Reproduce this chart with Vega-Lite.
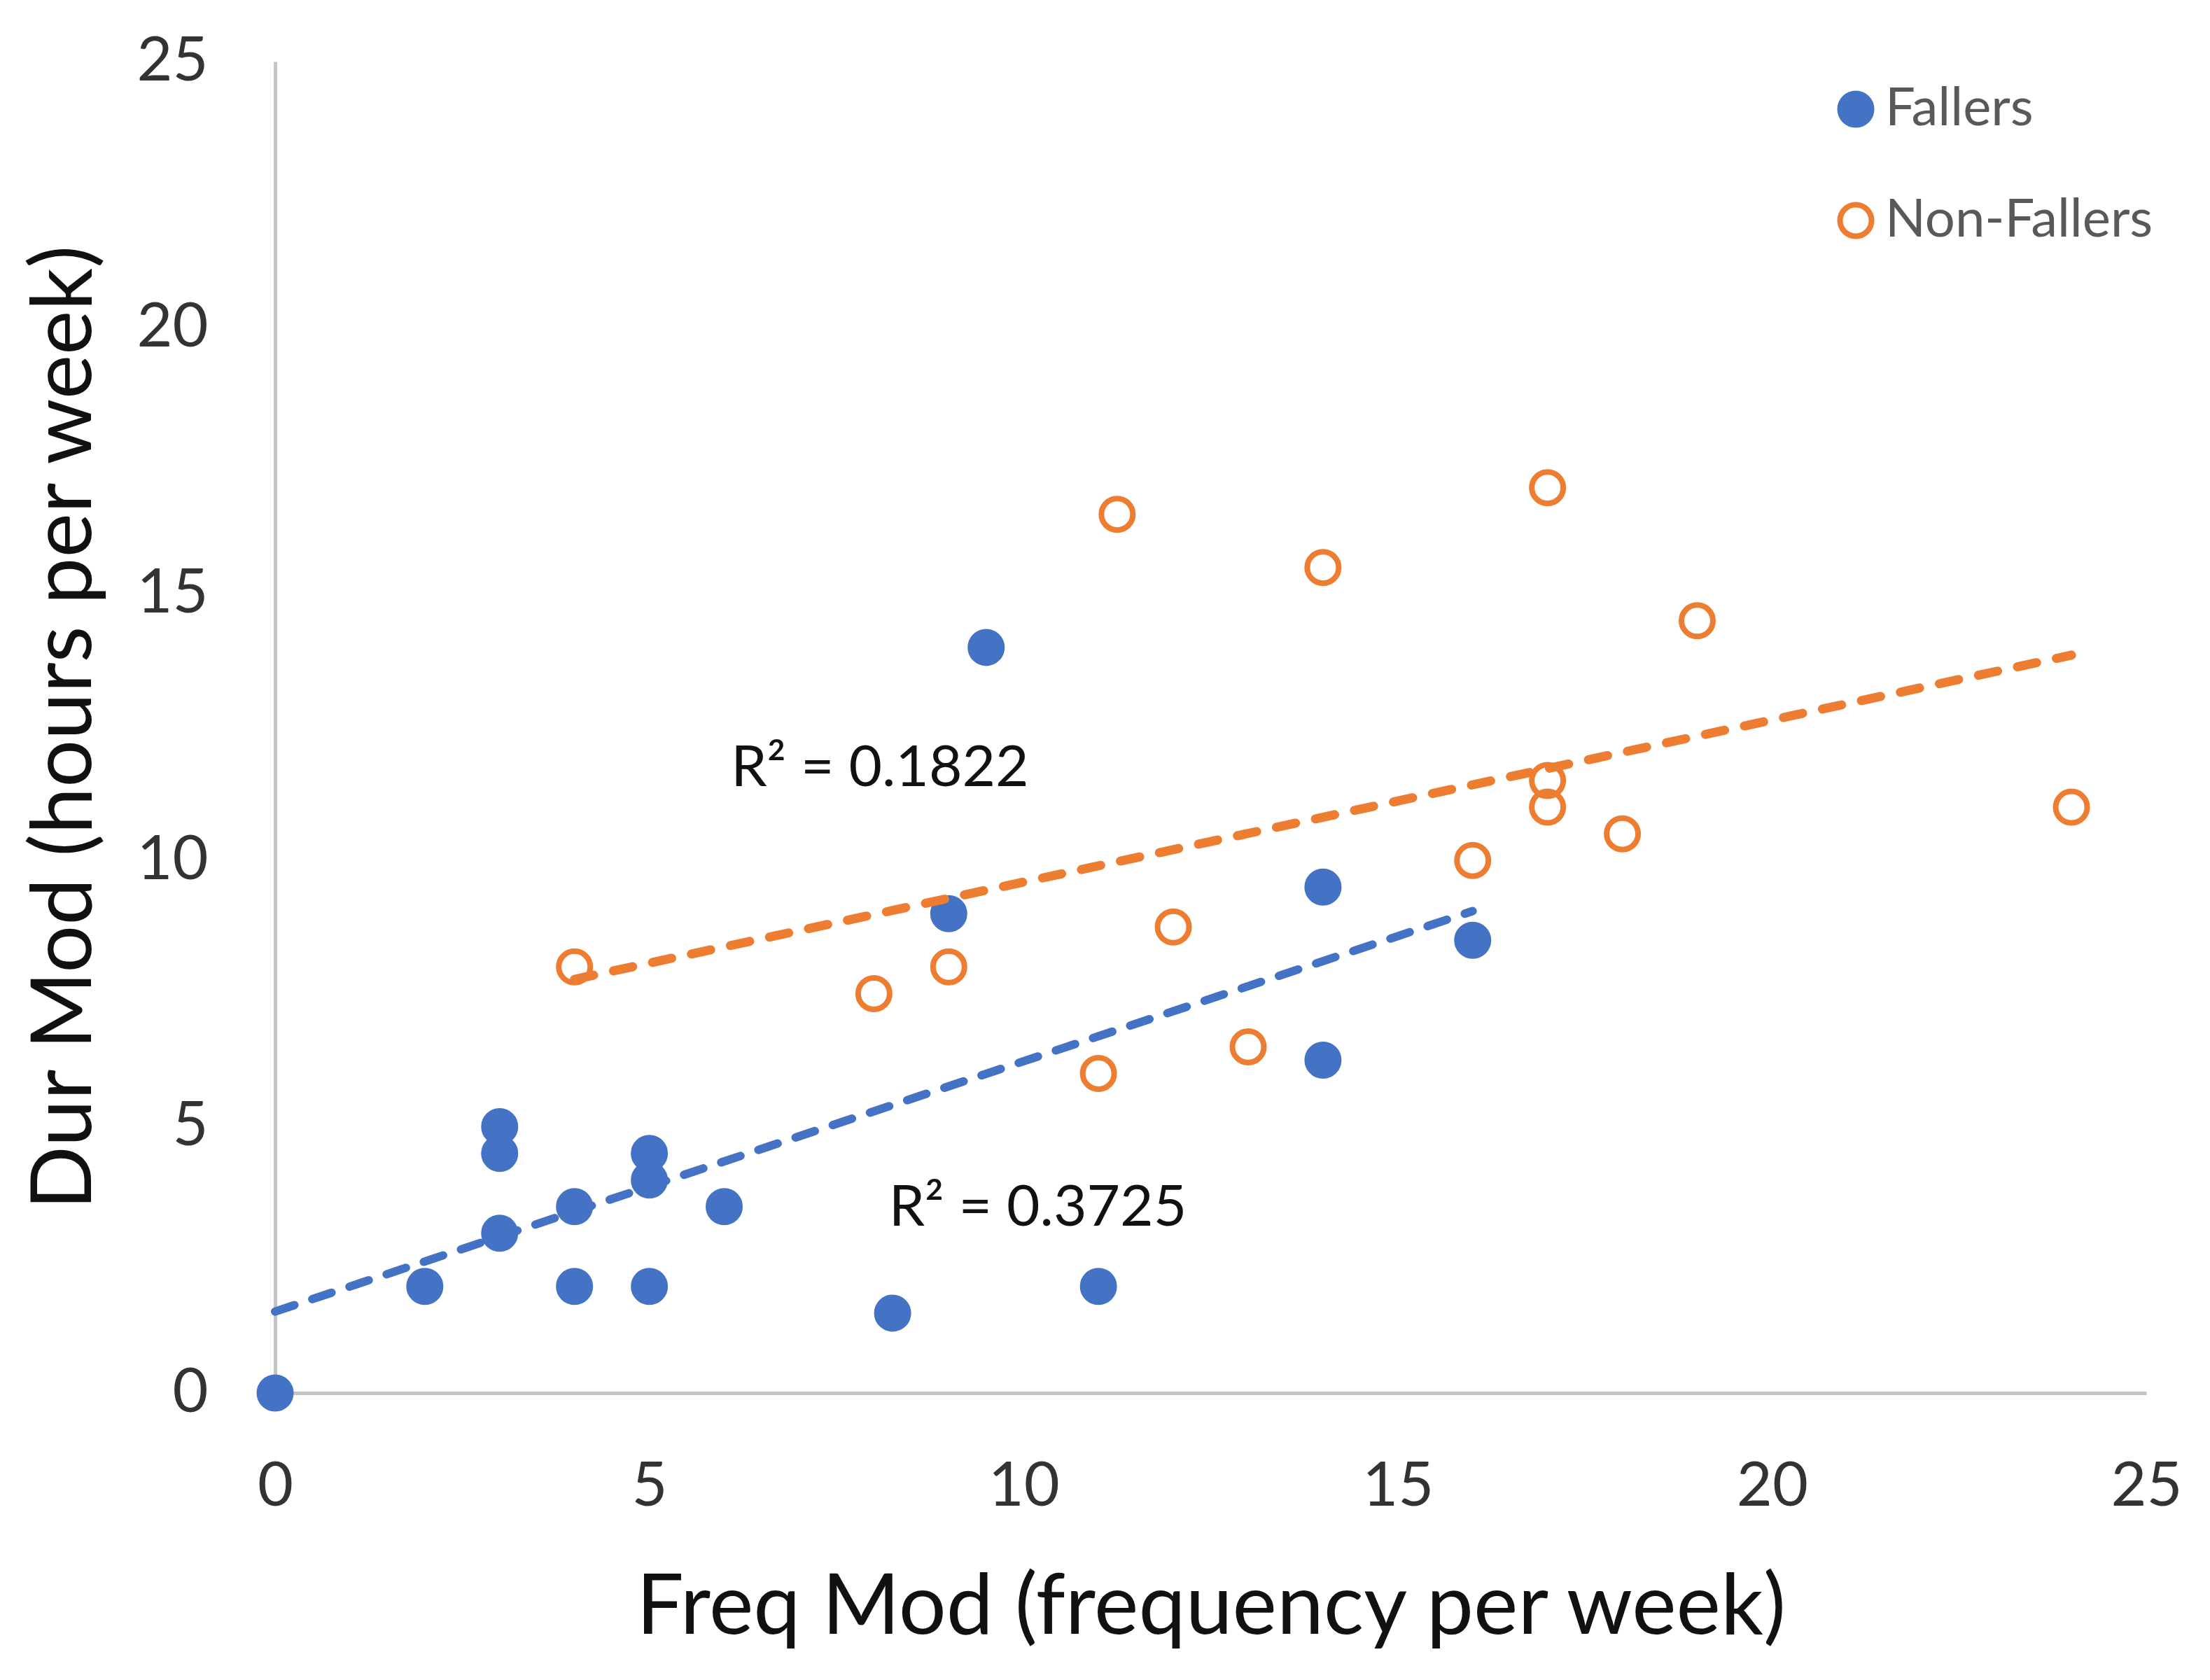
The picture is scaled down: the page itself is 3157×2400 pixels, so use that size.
{
  "$schema": "https://vega.github.io/schema/vega-lite/v6.json",
  "width": 2673,
  "height": 1902,
  "autosize": {"type": "none"},
  "padding": {"left": 393, "top": 88, "right": 91, "bottom": 410},
  "background": "white",
  "config": {
    "view": {"stroke": null},
    "font": "Lato",
    "axis": {
      "domainColor": "#C4C4C4",
      "domainWidth": 5,
      "ticks": false,
      "grid": false,
      "labelFlush": false,
      "labelFont": "Lato",
      "labelFontSize": 88,
      "labelColor": "#333333",
      "titleFont": "Lato",
      "titleFontSize": 120,
      "titleFontWeight": "normal",
      "titleColor": "#111111",
      "format": "d"
    }
  },
  "datasets": {
    "points": [
      {"group": "Fallers", "freq": 0, "dur": 0},
      {"group": "Fallers", "freq": 2, "dur": 2},
      {"group": "Fallers", "freq": 3, "dur": 5},
      {"group": "Fallers", "freq": 3, "dur": 4.5},
      {"group": "Fallers", "freq": 3, "dur": 3},
      {"group": "Fallers", "freq": 4, "dur": 3.5},
      {"group": "Fallers", "freq": 4, "dur": 2},
      {"group": "Fallers", "freq": 5, "dur": 4.5},
      {"group": "Fallers", "freq": 5, "dur": 4},
      {"group": "Fallers", "freq": 5, "dur": 2},
      {"group": "Fallers", "freq": 6, "dur": 3.5},
      {"group": "Fallers", "freq": 8.25, "dur": 1.5},
      {"group": "Fallers", "freq": 9, "dur": 9},
      {"group": "Fallers", "freq": 9.5, "dur": 14},
      {"group": "Fallers", "freq": 11, "dur": 2},
      {"group": "Fallers", "freq": 14, "dur": 9.5},
      {"group": "Fallers", "freq": 14, "dur": 6.25},
      {"group": "Fallers", "freq": 16, "dur": 8.5},
      {"group": "Non-Fallers", "freq": 4, "dur": 8},
      {"group": "Non-Fallers", "freq": 8, "dur": 7.5},
      {"group": "Non-Fallers", "freq": 9, "dur": 8},
      {"group": "Non-Fallers", "freq": 11, "dur": 6},
      {"group": "Non-Fallers", "freq": 11.25, "dur": 16.5},
      {"group": "Non-Fallers", "freq": 12, "dur": 8.75},
      {"group": "Non-Fallers", "freq": 13, "dur": 6.5},
      {"group": "Non-Fallers", "freq": 14, "dur": 15.5},
      {"group": "Non-Fallers", "freq": 16, "dur": 10},
      {"group": "Non-Fallers", "freq": 17, "dur": 17},
      {"group": "Non-Fallers", "freq": 17, "dur": 11.5},
      {"group": "Non-Fallers", "freq": 17, "dur": 11},
      {"group": "Non-Fallers", "freq": 18, "dur": 10.5},
      {"group": "Non-Fallers", "freq": 19, "dur": 14.5},
      {"group": "Non-Fallers", "freq": 24, "dur": 11}
    ],
    "labels": [
      {"x": 6.09, "y": 11.73, "label": "R² = 0.1822"},
      {"x": 8.2, "y": 3.47, "label": "R² = 0.3725"}
    ]
  },
  "layer": [
    {
      "data": {"name": "points"},
      "mark": {"type": "point", "shape": "circle", "size": 2025, "strokeWidth": 8, "opacity": 1},
      "encoding": {
        "x": {"field": "freq", "type": "quantitative", "title": "Freq Mod (frequency per week)",
              "scale": {"domain": [0, 25], "nice": false},
              "axis": {"values": [0, 5, 10, 15, 20, 25], "labelPadding": 90, "titlePadding": 70}},
        "y": {"field": "dur", "type": "quantitative", "title": "Dur Mod (hours per week)",
              "scale": {"domain": [0, 25], "nice": false},
              "axis": {"values": [0, 5, 10, 15, 20, 25], "labelPadding": 96, "titlePadding": 40}},
        "stroke": {"field": "group", "type": "nominal",
                   "scale": {"domain": ["Fallers", "Non-Fallers"], "range": ["#4472C4", "#ED7D31"]},
                   "legend": {"orient": "none", "legendX": 2220, "legendY": 30, "title": null, "padding": 0,
                              "labelFont": "Lato", "labelFontSize": 76, "labelColor": "#595959", "labelLimit": 1000,
                              "symbolSize": 2025, "symbolStrokeWidth": 8, "symbolType": "circle",
                              "rowPadding": 81, "labelOffset": 4}},
        "fill": {"field": "group", "type": "nominal",
                 "scale": {"domain": ["Fallers", "Non-Fallers"], "range": ["#4472C4", "transparent"]},
                 "legend": {"orient": "none", "legendX": 2220, "legendY": 30, "title": null, "padding": 0,
                            "labelFont": "Lato", "labelFontSize": 76, "labelColor": "#595959", "labelLimit": 1000,
                            "symbolSize": 2025, "symbolStrokeWidth": 8, "symbolType": "circle",
                            "rowPadding": 81, "labelOffset": 4}}
      }
    },
    {
      "data": {"name": "points"},
      "transform": [
        {"filter": "datum.group === 'Fallers'"},
        {"regression": "dur", "on": "freq"}
      ],
      "mark": {"type": "line", "strokeCap": "round", "color": "#4472C4", "strokeWidth": 12, "strokeDash": [29, 27]},
      "encoding": {
        "x": {"field": "freq", "type": "quantitative", "title": "Freq Mod (frequency per week)"},
        "y": {"field": "dur", "type": "quantitative", "title": "Dur Mod (hours per week)"}
      }
    },
    {
      "data": {"name": "points"},
      "transform": [
        {"filter": "datum.group === 'Non-Fallers'"},
        {"regression": "dur", "on": "freq"}
      ],
      "mark": {"type": "line", "strokeCap": "round", "color": "#ED7D31", "strokeWidth": 13, "strokeDash": [28, 29]},
      "encoding": {
        "x": {"field": "freq", "type": "quantitative", "title": "Freq Mod (frequency per week)"},
        "y": {"field": "dur", "type": "quantitative", "title": "Dur Mod (hours per week)"}
      }
    },
    {
      "data": {"name": "labels"},
      "mark": {"type": "text", "align": "left", "baseline": "middle", "font": "Lato", "fontSize": 82, "color": "#111111"},
      "encoding": {
        "x": {"field": "x", "type": "quantitative", "title": "Freq Mod (frequency per week)"},
        "y": {"field": "y", "type": "quantitative", "title": "Dur Mod (hours per week)"},
        "text": {"field": "label", "type": "nominal"}
      }
    }
  ]
}
